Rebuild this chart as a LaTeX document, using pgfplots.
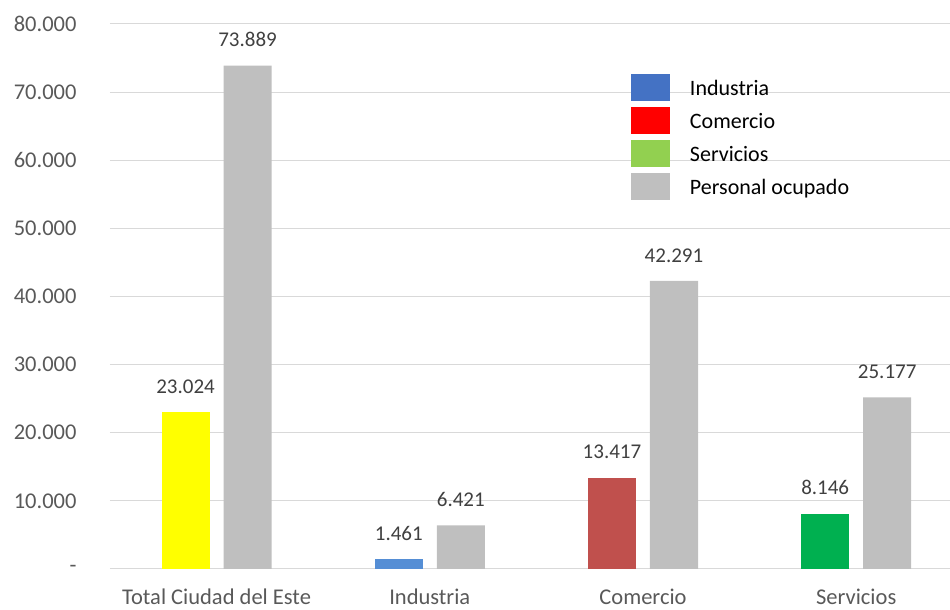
\documentclass[border=0pt]{standalone}
\usepackage{pgfplots}
\pgfplotsset{compat=1.18}
\usepackage{fontspec}
\setmainfont{Carlito}

\definecolor{gridgray}{HTML}{D9D9D9}
\definecolor{ticktext}{HTML}{595959}
\definecolor{labeltext}{HTML}{404040}
\definecolor{barYellow}{HTML}{FFFF00}
\definecolor{barBlue}{HTML}{558ED5}
\definecolor{barRed}{HTML}{C0504D}
\definecolor{barGreen}{HTML}{00B050}
\definecolor{barGray}{HTML}{BFBFBF}
\definecolor{legBlue}{HTML}{4472C4}
\definecolor{legRed}{HTML}{FF0000}
\definecolor{legGreen}{HTML}{92D050}

\newcommand{\chartfont}{\fontsize{21}{25}\selectfont}
\newcommand{\tickfont}{\fontsize{22.5}{27}\selectfont}

\begin{document}
\begin{tikzpicture}
  \begin{axis}[
    name=ax,
    scale only axis,
    width=840pt, height=545pt,
    xmin=-0.5, xmax=3.44,
    ymin=0, ymax=80000,
    ybar, bar width=48pt,
    axis line style={draw=none},
    ymajorgrids,
    grid style={color=gridgray, line width=1pt},
    major tick length=0pt,
    scaled y ticks=false,
    ytick={0,10000,20000,30000,40000,50000,60000,70000,80000},
    yticklabels={-,10.000,20.000,30.000,40.000,50.000,60.000,70.000,80.000},
    xtick={0,1,2,3},
    xticklabels={Total Ciudad del Este,Industria,Comercio,Servicios},
    tick label style={font=\tickfont, text=ticktext},
    yticklabel style={xshift=-30pt},
    xticklabel style={yshift=-16pt},
    /pgf/number format/1000 sep={.},
    /pgf/number format/assume math mode=true,
    nodes near coords,
    every node near coord/.append style={font=\chartfont, text=labeltext, yshift=15pt},
    legend image code/.code={\fill[#1] (0pt,-12.5pt) rectangle (39pt,14.5pt);},
    legend style={at={(0.6202,0.9083)}, anchor=north west, draw=none, fill=none,
      font=\fontsize{22}{26}\selectfont, inner sep=0pt, outer sep=0pt, row sep=6pt,
      nodes={inner sep=0pt, text=black},
      /tikz/every odd column/.append style={column sep=20pt}},
    legend cell align=left,
  ]
    % first bar of each group, own colour
    \addplot[fill=barYellow, draw=none, bar shift=-31pt, forget plot] coordinates {(0,23024)};
    \addplot[fill=barBlue, draw=none, bar shift=-31pt, forget plot] coordinates {(1,1461)};
    \addplot[fill=barRed, draw=none, bar shift=-31pt, forget plot] coordinates {(2,13417)};
    \addplot[fill=barGreen, draw=none, bar shift=-31pt, forget plot] coordinates {(3,8146)};
    % personal ocupado
    \addplot[fill=barGray, draw=none, bar shift=31pt, forget plot] coordinates {(0,73889) (1,6421) (2,42291) (3,25177)};

    \addlegendimage{fill=legBlue, draw=none}
    \addlegendentry{Industria}
    \addlegendimage{fill=legRed, draw=none}
    \addlegendentry{Comercio}
    \addlegendimage{fill=legGreen, draw=none}
    \addlegendentry{Servicios}
    \addlegendimage{fill=barGray, draw=none}
    \addlegendentry{Personal ocupado}
  \end{axis}
  \pgfresetboundingbox
  \path ([shift={(-110pt,-41pt)}]ax.south west) rectangle ([shift={(0pt,24pt)}]ax.north east);
\end{tikzpicture}
\end{document}
